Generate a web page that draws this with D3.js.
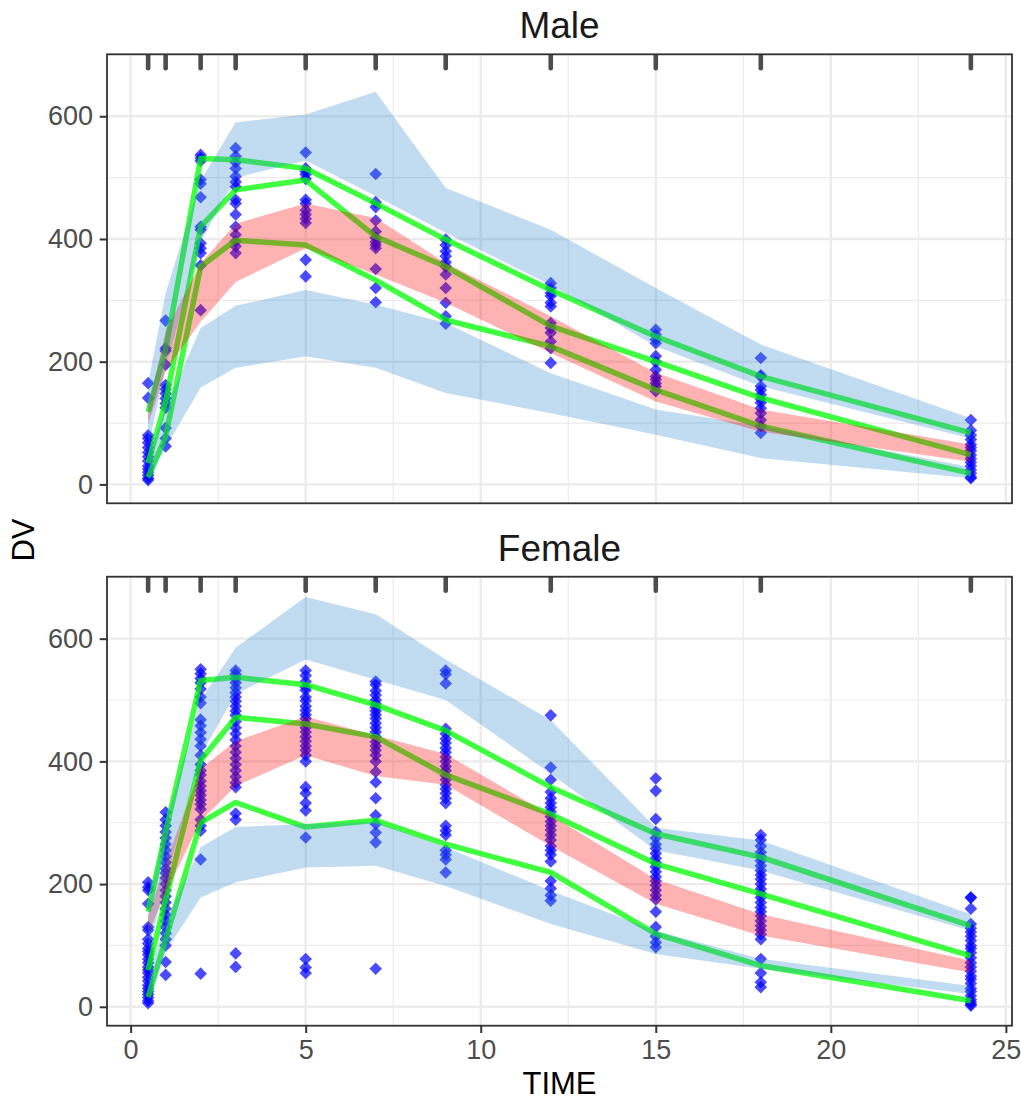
<!DOCTYPE html>
<html><head><meta charset="utf-8">
<script src="https://cdn.jsdelivr.net/npm/d3@7"></script>
<style>body{margin:0;background:#fff}</style>
</head><body>
<svg id="chart" width="1021" height="1100"></svg>
<script>
// ---- data ----
const times = [0.5, 1, 2, 3, 5, 7, 9, 12, 15, 18, 24];
const panelNames = ["Male", "Female"];
const xTicks = [0, 5, 10, 15, 20, 25];
const yTicks = [0, 200, 400, 600];

// observed percentiles (green lines)
const maleObsP5  = [12, 78, 355, 398, 390, 333, 268, 225, 154, 95, 18];
const maleObsP50 = [35, 135, 420, 480, 496, 404, 355, 258, 200, 141, 48];
const maleObsP95 = [118, 220, 531, 529, 515, 458, 399, 317, 241, 176, 84];
const femaleObsP5  = [16, 110, 300, 333, 293, 304, 265, 219, 119, 67, 10];
const femaleObsP50 = [60, 175, 402, 472, 461, 440, 378, 314, 233, 184, 83];
const femaleObsP95 = [155, 285, 532, 537, 525, 492, 450, 358, 282, 244, 132];

// simulated confidence bands
const maleSimP5Lo  = [5, 60, 158, 190, 209, 190, 149, 116, 81, 43, 10];
const maleSimP5Hi  = [45, 125, 255, 291, 317, 293, 263, 181, 122, 95, 28];
const maleSimP50Lo = [98, 185, 265, 330, 385, 342, 296, 214, 135, 86, 37];
const maleSimP50Hi = [125, 250, 360, 425, 458, 434, 361, 274, 182, 122, 65];
const maleSimP95Lo = [60, 190, 395, 500, 528, 470, 410, 325, 225, 160, 75];
const maleSimP95Hi = [165, 312, 495, 590, 603, 640, 483, 415, 320, 228, 108];

const femaleSimP5Lo  = [8, 90, 178, 203, 227, 230, 197, 135, 86, 62, 21];
const femaleSimP5Hi  = [45, 140, 260, 293, 298, 301, 260, 189, 124, 78, 34];
const femaleSimP50Lo = [120, 185, 303, 360, 410, 376, 362, 262, 168, 116, 56];
const femaleSimP50Hi = [148, 235, 388, 433, 473, 442, 412, 312, 208, 151, 75];
const femaleSimP95Lo = [90, 205, 410, 510, 566, 533, 500, 380, 255, 222, 124];
const femaleSimP95Hi = [165, 300, 500, 585, 668, 640, 566, 467, 292, 271, 151];

// observed DV per time bin
const maleDV = [
  [165, 141, 80, 75, 68, 60, 52, 45, 38, 30, 25, 20, 15, 10, 7],
  [267, 222, 218, 195, 162, 155, 148, 140, 132, 125, 92, 75, 62],
  [537, 532, 527, 497, 490, 468, 420, 415, 393, 385, 377, 357, 284],
  [548, 535, 525, 515, 502, 493, 485, 464, 458, 440, 420, 407, 396, 388, 377],
  [541, 515, 510, 505, 498, 464, 458, 447, 440, 433, 426, 366, 339],
  [506, 460, 452, 430, 412, 402, 395, 390, 385, 351, 320, 297],
  [399, 390, 380, 372, 362, 355, 342, 320, 296, 274, 262],
  [328, 320, 312, 307, 296, 290, 263, 255, 247, 233, 222, 198],
  [252, 244, 236, 230, 209, 200, 187, 176, 171, 165, 160, 152],
  [206, 178, 176, 160, 154, 146, 139, 133, 124, 116, 105, 95, 84],
  [105, 88, 80, 73, 65, 60, 55, 48, 42, 36, 30, 24, 18, 12, 10]
];
const femaleDV = [
  [203, 195, 190, 168, 130, 125, 110, 103, 95, 90, 85, 78, 72, 65, 60, 55, 48, 42, 35, 30, 25, 20, 15, 10, 6],
  [317, 305, 295, 285, 275, 265, 255, 245, 235, 225, 218, 210, 200, 190, 180, 170, 160, 150, 140, 130, 120, 110, 100, 73, 52],
  [550, 543, 535, 528, 518, 505, 495, 468, 458, 447, 436, 425, 410, 395, 385, 378, 368, 360, 352, 345, 337, 330, 322, 305, 295, 287, 240, 54],
  [548, 542, 535, 528, 520, 512, 505, 498, 490, 482, 475, 465, 455, 445, 435, 425, 415, 405, 395, 385, 375, 365, 358, 315, 305, 87, 65],
  [548, 540, 530, 521, 516, 505, 499, 490, 483, 476, 470, 462, 455, 448, 440, 433, 425, 418, 410, 400, 358, 348, 332, 320, 276, 78, 64, 55],
  [530, 525, 515, 508, 500, 494, 488, 482, 476, 470, 462, 455, 448, 440, 432, 425, 418, 410, 400, 383, 366, 340, 312, 298, 284, 268, 62],
  [548, 542, 527, 453, 445, 437, 430, 422, 415, 407, 400, 392, 385, 377, 370, 362, 355, 348, 340, 332, 295, 287, 280, 255, 248, 240, 219],
  [475, 390, 370, 350, 340, 332, 325, 318, 310, 302, 295, 288, 280, 272, 262, 255, 248, 237, 205, 193, 182, 173],
  [372, 352, 306, 285, 275, 265, 258, 250, 242, 235, 228, 220, 212, 205, 198, 190, 182, 175, 155, 130, 115, 105, 97],
  [280, 272, 262, 252, 245, 238, 230, 222, 215, 208, 200, 192, 185, 178, 170, 162, 155, 148, 140, 132, 125, 118, 110, 78, 55, 40, 32],
  [178, 178, 160, 135, 128, 122, 115, 108, 100, 95, 88, 80, 72, 65, 58, 50, 45, 38, 30, 25, 18, 12, 8, 4, 2]
];

// ---- build ----
const panels = [
  {name: panelNames[0], top: 54.3, dv: maleDV,
   obs: [maleObsP5, maleObsP50, maleObsP95],
   bands: [[maleSimP5Lo, maleSimP5Hi, "pi"], [maleSimP50Lo, maleSimP50Hi, "med"], [maleSimP95Lo, maleSimP95Hi, "pi"]]},
  {name: panelNames[1], top: 576.7, dv: femaleDV,
   obs: [femaleObsP5, femaleObsP50, femaleObsP95],
   bands: [[femaleSimP5Lo, femaleSimP5Hi, "pi"], [femaleSimP50Lo, femaleSimP50Hi, "med"], [femaleSimP95Lo, femaleSimP95Hi, "pi"]]}
];

const font = "'Liberation Sans', Arial, Helvetica, sans-serif";
const svg = d3.select("#chart");
svg.append("rect").attr("width", 1021).attr("height", 1100).attr("fill", "#fff");

const left = 107, right = 1012, ph = 449;
const x = d3.scaleLinear().domain([-0.675, 25.175]).range([left, right]);
const xMinor = [2.5, 7.5, 12.5, 17.5, 22.5];
const yMinor = [100, 300, 500, 700];

panels.forEach((p, pi) => {
  const y = d3.scaleLinear().domain([-30.8, 701]).range([p.top + ph, p.top]);
  const g = svg.append("g");
  const clipId = "clip" + pi;
  g.append("clipPath").attr("id", clipId).append("rect")
    .attr("x", left).attr("y", p.top).attr("width", right - left).attr("height", ph);

  const grid = g.append("g").attr("clip-path", `url(#${clipId})`);
  grid.selectAll(".mx").data(xMinor).join("line")
    .attr("x1", d => x(d)).attr("x2", d => x(d)).attr("y1", p.top).attr("y2", p.top + ph)
    .attr("stroke", "#EBEBEB").attr("stroke-width", 1.2);
  grid.selectAll(".my").data(yMinor.filter(v => v < 701)).join("line")
    .attr("x1", left).attr("x2", right).attr("y1", d => y(d)).attr("y2", d => y(d))
    .attr("stroke", "#EBEBEB").attr("stroke-width", 1.2);
  grid.selectAll(".Mx").data(xTicks).join("line")
    .attr("x1", d => x(d)).attr("x2", d => x(d)).attr("y1", p.top).attr("y2", p.top + ph)
    .attr("stroke", "#EBEBEB").attr("stroke-width", 2.4);
  grid.selectAll(".My").data(yTicks).join("line")
    .attr("x1", left).attr("x2", right).attr("y1", d => y(d)).attr("y2", d => y(d))
    .attr("stroke", "#EBEBEB").attr("stroke-width", 2.4);

  const plot = g.append("g").attr("clip-path", `url(#${clipId})`);

  // observed points
  const pts = [];
  p.dv.forEach((arr, i) => arr.forEach(v => pts.push({t: times[i], v})));
  const r = 6.3;
  plot.append("g").selectAll("path").data(pts).join("path")
    .attr("d", `M0,${-r}L${r},0L0,${r}L${-r},0Z`)
    .attr("transform", d => `translate(${x(d.t)},${y(d.v)})`)
    .attr("fill", "#0000FF").attr("fill-opacity", 0.7);

  // observed percentile lines
  const line = d3.line().x((d, i) => x(times[i])).y(d => y(d));
  plot.append("g").selectAll("path").data(p.obs).join("path")
    .attr("d", d => line(d))
    .attr("fill", "none").attr("stroke", "#00FF00").attr("stroke-opacity", 0.75)
    .attr("stroke-width", 5.5).attr("stroke-linejoin", "round");

  // simulated bands
  const area = d3.area().x((d, i) => x(times[i])).y0(d => y(d[0])).y1(d => y(d[1]));
  plot.append("g").selectAll("path").data(p.bands).join("path")
    .attr("d", b => area(b[0].map((lo, i) => [lo, b[1][i]])))
    .attr("fill", b => b[2] === "med" ? "#FF0000" : "#3388CC")
    .attr("fill-opacity", 0.3);

  // rug at top
  plot.append("g").selectAll("line").data(times).join("line")
    .attr("x1", d => x(d)).attr("x2", d => x(d))
    .attr("y1", p.top).attr("y2", p.top + 14)
    .attr("stroke", "#4D4D4D").attr("stroke-width", 4.6).attr("stroke-linecap", "round");

  // border
  g.append("rect").attr("x", left).attr("y", p.top).attr("width", right - left).attr("height", ph)
    .attr("fill", "none").attr("stroke", "#333333").attr("stroke-width", 1.8);

  // y axis
  const ya = g.append("g").attr("transform", `translate(${left},0)`)
    .call(d3.axisLeft(y).tickValues(yTicks).tickSize(7.3).tickPadding(6.6).tickFormat(d3.format("d")));
  ya.select(".domain").remove();
  ya.selectAll("line").attr("stroke", "#333333").attr("stroke-width", 2);
  ya.selectAll("text").attr("fill", "#4D4D4D").style("font-size", "27px").style("font-family", font);

  if (pi === panels.length - 1) {
    const xa = g.append("g").attr("transform", `translate(0,${p.top + ph})`)
      .call(d3.axisBottom(x).tickValues(xTicks).tickSize(7.3).tickPadding(6.6).tickFormat(d3.format("d")));
    xa.select(".domain").remove();
    xa.selectAll("line").attr("stroke", "#333333").attr("stroke-width", 2);
    xa.selectAll("text").attr("fill", "#4D4D4D").style("font-size", "27px").style("font-family", font);
  }

  // strip title
  g.append("text").attr("x", (left + right) / 2).attr("y", p.top - 16)
    .attr("text-anchor", "middle").attr("fill", "#1A1A1A")
    .style("font-size", "37px").style("font-family", font).text(p.name);
});

// axis titles
svg.append("text").attr("x", (left + right) / 2).attr("y", 1094.3)
  .attr("text-anchor", "middle").attr("fill", "#000")
  .style("font-size", "31px").style("font-family", font).text("TIME");
svg.append("text").attr("transform", "translate(34,540) rotate(-90)")
  .attr("text-anchor", "middle").attr("fill", "#000")
  .style("font-size", "31px").style("font-family", font).text("DV");
</script>
</body></html>
